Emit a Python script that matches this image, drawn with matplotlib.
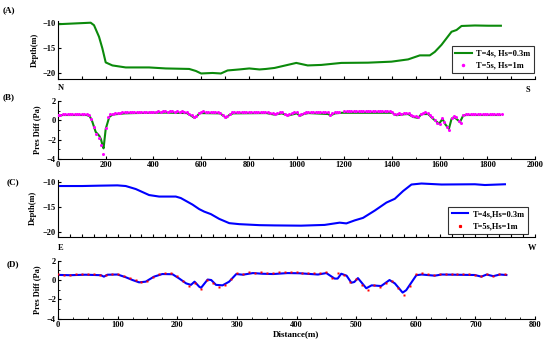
import numpy as np
import matplotlib
matplotlib.use('Agg')
import matplotlib.pyplot as plt
from matplotlib.lines import Line2D
from matplotlib.ticker import MultipleLocator

plt.rcParams['font.family'] = ['Liberation Serif', 'DejaVu Serif']
plt.rcParams['font.weight'] = 'bold'
plt.rcParams['axes.labelweight'] = 'bold'

# (A) depth along N-S line
a_x = [0, 137, 151, 172, 186, 200, 228, 284, 382, 452, 550, 578, 600, 648, 683, 711,
       760, 802, 845, 872, 908, 999, 1047, 1104, 1188, 1300, 1398, 1468, 1517, 1559,
       1580, 1608, 1629, 1650, 1671, 1692, 1748, 1804, 1857]
a_depth = [-10.3, -10.0, -10.5, -12.8, -15.1, -17.9, -18.5, -18.9, -18.9, -19.1, -19.2,
           -19.6, -20.1, -20.0, -20.1, -19.5, -19.3, -19.1, -19.3, -19.2, -19.0, -18.0,
           -18.5, -18.4, -18.0, -17.95, -17.75, -17.3, -16.5, -16.5, -15.8, -14.4, -13.1,
           -11.8, -11.45, -10.65, -10.55, -10.6, -10.6]

# (B) pressure difference, T=4s Hs=0.3m (line)
b_x = [0, 20, 120, 133, 142, 158, 173, 180, 187, 191, 200, 215, 229, 280, 320, 400, 450,
       540, 560, 573, 585, 594, 680, 694, 706, 718, 734, 874, 905, 915, 938, 965, 1001,
       1015, 1030, 1050, 1134, 1141, 1162, 1190, 1400, 1419, 1454, 1468, 1489, 1510,
       1524, 1552, 1573, 1598, 1612, 1625, 1639, 1650, 1660, 1678, 1685, 1699, 1713, 1853]
b_line = [0.45, 0.55, 0.55, 0.42, 0.0, -1.2, -1.6, -1.95, -2.6, -2.9, -0.9, 0.35, 0.6,
          0.72, 0.75, 0.78, 0.8, 0.75, 0.45, 0.25, 0.5, 0.75, 0.72, 0.45, 0.28, 0.55,
          0.72, 0.75, 0.6, 0.62, 0.72, 0.5, 0.72, 0.47, 0.65, 0.75, 0.65, 0.5, 0.72,
          0.78, 0.78, 0.53, 0.63, 0.65, 0.35, 0.25, 0.65, 0.65, 0.15, -0.35, 0.15, -0.45,
          -0.88, 0.15, 0.35, 0.0, -0.2, 0.5, 0.55, 0.55]

# (B) T=5s Hs=1m (dots), every 10 m from 0
b_dots = [0.55, 0.6, 0.65, 0.65, 0.62, 0.65, 0.65, 0.62, 0.65, 0.65,
          0.62, 0.65, 0.62, 0.55, 0.1, -0.7, -1.4, -1.85, -2.5, -3.5,
          -0.8, 0.3, 0.65, 0.7, 0.75, 0.8, 0.78, 0.85, 0.85, 0.82,
          0.88, 0.85, 0.88, 0.85, 0.9, 0.85, 0.88, 0.9, 0.87, 0.9,
          0.9, 0.88, 0.92, 0.9, 0.92, 0.95, 0.9, 0.92, 0.95, 0.9,
          0.93, 0.9, 0.92, 0.9, 0.85, 0.7, 0.5, 0.35, 0.4, 0.75,
          0.9, 0.92, 0.88, 0.9, 0.9, 0.88, 0.85, 0.85, 0.75, 0.5,
          0.35, 0.45, 0.7, 0.82, 0.85, 0.88, 0.86, 0.88, 0.9, 0.87,
          0.88, 0.86, 0.88, 0.9, 0.87, 0.88, 0.88, 0.85, 0.85, 0.8,
          0.72, 0.7, 0.78, 0.85, 0.82, 0.7, 0.6, 0.65, 0.78, 0.85,
          0.85, 0.6, 0.62, 0.78, 0.85, 0.88, 0.86, 0.88, 0.85, 0.87,
          0.88, 0.86, 0.85, 0.85, 0.6, 0.75, 0.85, 0.88, 0.9, np.nan,
          0.92, 0.93, 0.92, 0.94, 0.92, 0.93, 0.92, 0.94, 0.92, 0.93,
          0.92, 0.94, 0.93, 0.92, 0.93, 0.92, 0.94, 0.92, 0.93, 0.92,
          0.85, 0.7, 0.65, 0.72, 0.7, 0.75, 0.78, 0.72, 0.55, 0.45,
          0.4, 0.35, 0.65, 0.8, 0.82, 0.75, 0.5, 0.3, 0.05, -0.25,
          -0.4, 0.2, -0.2, -0.7, -1.0, 0.2, 0.45, 0.3, -0.1, -0.25,
          0.55, 0.7, 0.68, 0.7, 0.68, 0.7, 0.69, 0.7, 0.68, 0.7,
          0.69, 0.7, 0.68, 0.7, 0.69, 0.68, 0.7]
b_dot_x = np.arange(len(b_dots)) * 10

# (C) depth along E-W line
c_x = [8, 102, 172, 249, 284, 326, 382, 424, 494, 515, 564, 592, 613, 641, 676, 718,
       760, 845, 907, 1019, 1118, 1160, 1181, 1209, 1244, 1279, 1328, 1377, 1412, 1447,
       1482, 1524, 1608, 1748, 1790, 1874]
c_depth = [-10.9, -10.9, -10.83, -10.77, -10.9, -11.5, -12.7, -13.0, -13.0, -13.3, -14.6,
           -15.5, -16.0, -16.5, -17.45, -18.3, -18.5, -18.7, -18.75, -18.8, -18.65, -18.35,
           -18.2, -18.35, -17.75, -17.25, -15.8, -14.2, -13.45, -11.9, -10.6, -10.4,
           -10.6, -10.55, -10.7, -10.55]

# (D) pressure difference vs distance, T=4s Hs=0.3m (line)
d_x = [0, 20, 46, 72, 77, 83, 100, 114, 125, 136, 147, 161, 175, 192, 203, 215, 223, 229,
       237, 240, 251, 257, 265, 276, 287, 299, 310, 327, 343, 361, 385, 405, 436, 450,
       464, 469, 475, 484, 492, 497, 503, 517, 526, 542, 556, 565, 578, 584, 601, 610,
       632, 643, 699, 710, 719, 730, 741, 752]
d_line = [0.53, 0.5, 0.55, 0.5, 0.35, 0.55, 0.57, 0.28, 0.0, -0.24, -0.17, 0.35, 0.62,
          0.6, 0.17, -0.35, -0.5, -0.17, -0.7, -0.8, 0.05, 0.0, -0.5, -0.55, -0.17, 0.62,
          0.55, 0.72, 0.65, 0.62, 0.72, 0.7, 0.57, 0.72, 0.15, 0.15, 0.65, 0.45, -0.28,
          -0.2, 0.2, -0.85, -0.55, -0.62, 0.0, -0.35, -1.3, -1.05, 0.5, 0.57, 0.45, 0.57,
          0.52, 0.35, 0.57, 0.4, 0.57, 0.52]

# (D) T=5s Hs=1m (dots), every 10 m from 0
d_dots = [0.6, 0.55, 0.55, 0.6, 0.6, 0.62, 0.6, 0.55, 0.5, 0.62,
          0.62, 0.45, 0.2, 0.0, -0.2, -0.1, 0.3, 0.6, 0.72, 0.7,
          0.4, -0.1, -0.6, -0.3, -0.95, 0.05, -0.3, -0.7, -0.5, 0.1,
          0.72, 0.65, 0.78, 0.75, 0.8, 0.75, 0.72, 0.78, 0.8, 0.82,
          0.8, 0.75, 0.72, 0.68, 0.75, 0.8, 0.25, 0.75, 0.55, -0.25,
          0.15, -0.55, -1.0, -0.5, -0.7, -0.3, -0.1, -0.8, -1.5, -0.6,
          0.6, 0.7, 0.65, 0.55, 0.65, 0.62, 0.65, 0.62, 0.65, 0.6,
          0.5, 0.4, 0.62, 0.45, 0.65, 0.62]
d_dot_x = np.arange(len(d_dots)) * 10

green = '#0b8a0b'
magenta = '#ff00ff'
blue = '#0000ff'
red = '#ff0000'
fs = 6

fig = plt.figure(figsize=(5.5, 3.43), dpi=100)
W, H = 550.0, 343.0


def make_ax(top, bottom):
    left, right = 58, 535
    ax = fig.add_axes([left / W, 1 - bottom / H, (right - left) / W, (bottom - top) / H])
    ax.spines['top'].set_visible(False)
    ax.spines['right'].set_visible(False)
    ax.tick_params(direction='in', labelsize=fs, length=2.5, width=0.8, pad=1.5)
    ax.tick_params(which='minor', direction='in', length=1.5, width=0.6)
    for s in ax.spines.values():
        s.set_linewidth(0.8)
    return ax


axA = make_ax(20.7, 79)
axB = make_ax(101, 159)
axC = make_ax(180, 236.7)
axD = make_ax(260.7, 318.7)

# A
axA.plot(a_x, a_depth, color=green, lw=1.5)
axA.set_xlim(0, 2000)
axA.set_ylim(-21.2, -9.6)
axA.set_yticks([-20, -15, -10])
axA.xaxis.set_major_locator(MultipleLocator(100))
axA.set_xticklabels([])
axA.set_ylabel('Depth(m)', fontsize=fs)
axA.yaxis.set_label_coords(-0.04, 0.5)
hA = [Line2D([], [], color=green, lw=1.5),
      Line2D([], [], color=magenta, ls='none', marker='o', ms=1.5)]
axA.legend(hA, ['T=4s, Hs=0.3m', 'T=5s, Hs=1m'], loc='lower right',
           bbox_to_anchor=(0.997, 0.1), fontsize=fs, frameon=True, fancybox=False,
           edgecolor='black', handlelength=2.0, borderpad=0.4, labelspacing=0.5,
           handletextpad=0.5, borderaxespad=0).get_frame().set_linewidth(0.8)

# B
axB.plot(b_x, b_line, color=green, lw=1.5, zorder=2)
axB.plot(b_dot_x, b_dots, ls='none', marker='o', ms=2.2, color=magenta, mec='none', zorder=3)
axB.set_xlim(0, 2000)
axB.set_ylim(-4, 2)
axB.set_yticks([-4, -2, 0, 2])
axB.yaxis.set_minor_locator(MultipleLocator(1))
axB.set_xticks(range(0, 2001, 200))
axB.xaxis.set_minor_locator(MultipleLocator(100))
axB.set_ylabel('Pres Diff (Pa)', fontsize=fs)
axB.yaxis.set_label_coords(-0.035, 0.5)

# C
axC.plot(c_x, c_depth, color=blue, lw=1.5)
axC.set_xlim(0, 2000)
axC.set_ylim(-21, -9.7)
axC.set_yticks([-20, -15, -10])
axC.xaxis.set_major_locator(MultipleLocator(50))
axC.set_xticklabels([])
axC.set_ylabel('Depth(m)', fontsize=fs)
axC.yaxis.set_label_coords(-0.045, 0.5)
hC = [Line2D([], [], color=blue, lw=1.5),
      Line2D([], [], color=red, ls='none', marker='s', ms=1.3)]
axC.legend(hC, ['T=4s,Hs=0.3m', 'T=5s,Hs=1m'], loc='lower right',
           bbox_to_anchor=(0.985, 0.05), fontsize=fs, frameon=True, fancybox=False,
           edgecolor='black', handlelength=2.0, borderpad=0.4, labelspacing=0.5,
           handletextpad=0.5, borderaxespad=0).get_frame().set_linewidth(0.8)

# D
axD.plot(d_x, d_line, color=blue, lw=1.5, zorder=2)
axD.plot(d_dot_x, d_dots, ls='none', marker='s', ms=2.1, color=red, mec='none', zorder=3)
axD.set_xlim(0, 800)
axD.set_ylim(-4, 2)
axD.set_yticks([-4, -2, 0, 2])
axD.yaxis.set_minor_locator(MultipleLocator(1))
axD.set_xticks(range(0, 801, 100))
axD.xaxis.set_minor_locator(MultipleLocator(25))
axD.set_ylabel('Pres Diff (Pa)', fontsize=fs)
axD.yaxis.set_label_coords(-0.035, 0.5)
axD.set_xlabel('Distance(m)', fontsize=fs + 0.5, labelpad=1)

# panel letters and directions
for txt, px, py in [('(A)', 3, 10), ('(B)', 3, 97), ('(C)', 7, 182), ('(D)', 7, 264)]:
    fig.text(px / W, 1 - py / H, txt, fontsize=fs + 0.5, fontweight='bold', ha='left', va='center')
for txt, px, py in [('N', 61, 88), ('S', 528, 90), ('E', 61, 248), ('W', 532, 248)]:
    fig.text(px / W, 1 - py / H, txt, fontsize=fs, fontweight='bold', ha='center', va='center')

fig.savefig('out.png', dpi=100)
